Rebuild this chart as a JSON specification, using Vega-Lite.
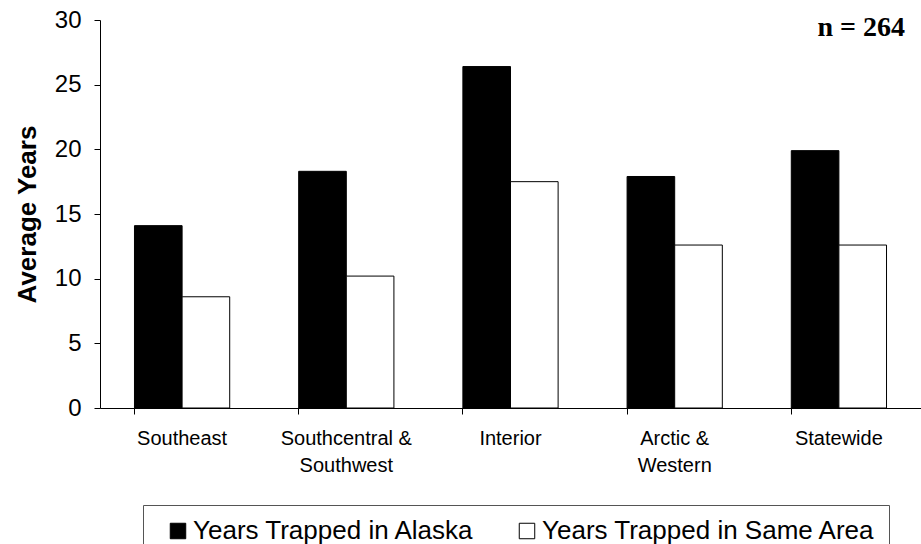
{
  "$schema": "https://vega.github.io/schema/vega-lite/v6.json",
  "width": 821,
  "height": 388,
  "autosize": {"type": "none"},
  "padding": {"left": 100, "top": 20, "right": 0, "bottom": 136},
  "background": "white",
  "title": {
    "text": "n = 264",
    "anchor": "end",
    "frame": "group",
    "font": "Liberation Serif",
    "fontWeight": "bold",
    "fontSize": 28,
    "color": "black",
    "baseline": "alphabetic",
    "offset": 0,
    "dy": 56,
    "dx": -16
  },
  "config": {
    "view": {"stroke": null},
    "font": "Liberation Sans",
    "axis": {"labelColor": "black", "titleColor": "black", "domainColor": "black", "tickColor": "black", "grid": false}
  },
  "data": {
    "values": [
      {"region": "Southeast", "series": "Years Trapped in Alaska", "years": 14.1},
      {"region": "Southeast", "series": "Years Trapped in Same Area", "years": 8.6},
      {"region": "Southcentral &|Southwest", "series": "Years Trapped in Alaska", "years": 18.3},
      {"region": "Southcentral &|Southwest", "series": "Years Trapped in Same Area", "years": 10.2},
      {"region": "Interior", "series": "Years Trapped in Alaska", "years": 26.4},
      {"region": "Interior", "series": "Years Trapped in Same Area", "years": 17.5},
      {"region": "Arctic &|Western", "series": "Years Trapped in Alaska", "years": 17.9},
      {"region": "Arctic &|Western", "series": "Years Trapped in Same Area", "years": 12.6},
      {"region": "Statewide", "series": "Years Trapped in Alaska", "years": 19.9},
      {"region": "Statewide", "series": "Years Trapped in Same Area", "years": 12.6}
    ]
  },
  "mark": {"type": "bar", "stroke": "black", "strokeWidth": 1},
  "encoding": {
    "x": {
      "field": "region",
      "type": "nominal",
      "sort": null,
      "scale": {"paddingInner": 0.42, "paddingOuter": 0.21},
      "axis": {
        "title": null,
        "labelAngle": 0,
        "labelFontSize": 20,
        "labelExpr": "split(datum.label, '|')",
        "labelLineHeight": 27,
        "labelPadding": 14,
        "bandPosition": 0,
        "tickSize": 6,
        "labelBaseline": "top"
      }
    },
    "xOffset": {
      "field": "series",
      "type": "nominal",
      "sort": ["Years Trapped in Alaska", "Years Trapped in Same Area"],
      "scale": {"paddingInner": 0, "paddingOuter": 0}
    },
    "y": {
      "field": "years",
      "type": "quantitative",
      "scale": {"domain": [0, 30], "nice": false},
      "axis": {
        "title": "Average Years",
        "titleFontSize": 26,
        "titleFontWeight": "bold",
        "titlePadding": 14,
        "values": [0, 5, 10, 15, 20, 25, 30],
        "labelFontSize": 24,
        "tickSize": 6,
        "labelPadding": 13
      }
    },
    "fill": {
      "field": "series",
      "type": "nominal",
      "sort": ["Years Trapped in Alaska", "Years Trapped in Same Area"],
      "scale": {"domain": ["Years Trapped in Alaska", "Years Trapped in Same Area"], "range": ["black", "white"]},
      "legend": {
        "title": null,
        "orient": "none",
        "legendX": 43,
        "legendY": 485,
        "direction": "horizontal",
        "symbolType": "square",
        "symbolSize": 240,
        "symbolStrokeColor": "black",
        "symbolStrokeWidth": 1,
        "symbolOffset": 9,
        "labelFontSize": 26,
        "labelLimit": 500,
        "labelColor": "black",
        "labelOffset": 2,
        "columnPadding": 30,
        "strokeColor": "#555555",
        "padding": 13
      }
    }
  }
}
